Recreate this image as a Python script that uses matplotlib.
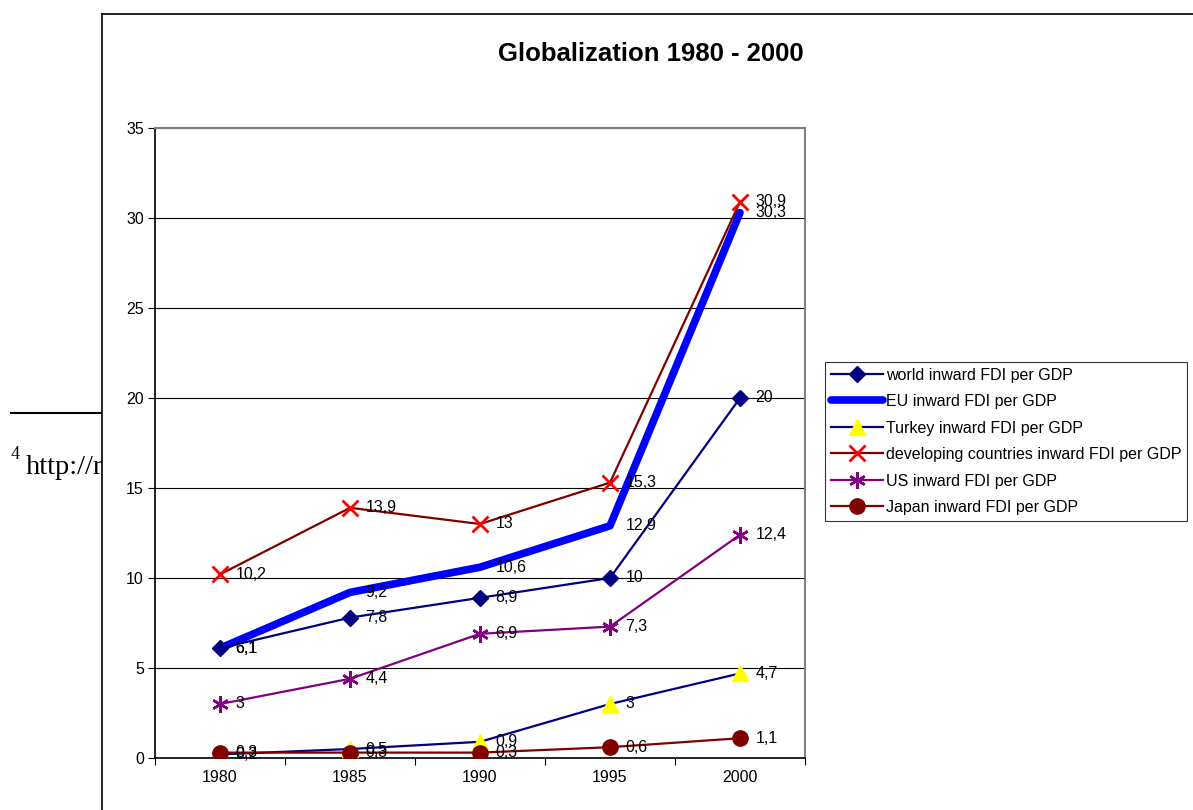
import matplotlib
matplotlib.use('Agg')
import matplotlib.pyplot as plt
from matplotlib.lines import Line2D

plt.rcParams['font.family'] = ['Liberation Sans', 'DejaVu Sans']

years = ['1980', '1985', '1990', '1995', '2000']

world = [6.1, 7.8, 8.9, 10, 20]
eu = [6.1, 9.2, 10.6, 12.9, 30.3]
turkey = [0.2, 0.5, 0.9, 3, 4.7]
developing = [10.2, 13.9, 13, 15.3, 30.9]
us = [3, 4.4, 6.9, 7.3, 12.4]
japan = [0.3, 0.3, 0.3, 0.6, 1.1]

series = [
    ('world inward FDI per GDP', world,
     dict(color='#000080', lw=1.6, marker='D', ms=8, mfc='#000080', mec='#000080', zorder=4)),
    ('EU inward FDI per GDP', eu,
     dict(color='#0000FF', lw=5.5, solid_capstyle='round', zorder=3)),
    ('Turkey inward FDI per GDP', turkey,
     dict(color='#000080', lw=1.6, marker='^', ms=11, mfc='#FFFF00', mec='#FFFF00', zorder=4)),
    ('developing countries inward FDI per GDP', developing,
     dict(color='#800000', lw=1.6, marker='x', ms=11, mew=2, mfc='#FF0000', mec='#FF0000', zorder=4)),
    ('US inward FDI per GDP', us,
     dict(color='#800080', lw=1.6, marker=(6, 2, 0), ms=12, mew=1.8, mfc='#800080', mec='#800080', zorder=4)),
    ('Japan inward FDI per GDP', japan,
     dict(color='#800000', lw=1.6, marker='o', ms=11, mfc='#800000', mec='#800000', zorder=5)),
]

fig = plt.figure(figsize=(11.93, 8.10), dpi=100)

# footnote peeking out from behind the chart
fn = fig.add_axes([0, 0, 102 / 1193, 1])
fn.axis('off')
fn.set_xlim(0, 102)
fn.set_ylim(810, 0)
fn.plot([11, 102], [413, 413], color='black', lw=1.5, clip_on=True)
fn.text(11, 459, '4', family='Liberation Serif', fontsize=13, va='baseline', clip_on=True)
fn.text(26, 474, 'http://reports', family='Liberation Serif', fontsize=20.5,
        va='baseline', clip_on=True)

# chart frame
fig.add_artist(Line2D([102 / 1193, 102 / 1193], [0, 1 - 14 / 810], color='black', lw=1.2,
                      transform=fig.transFigure))
fig.add_artist(Line2D([102 / 1193, 1], [1 - 14 / 810, 1 - 14 / 810], color='black', lw=1.2,
                      transform=fig.transFigure))

ax = fig.add_axes([155 / 1193, 1 - 758 / 810, 650 / 1193, 630 / 810])
x = list(range(len(years)))

for name, vals, style in series:
    ax.plot(x, vals, label=name, **style)
    for xi, v in zip(x, vals):
        ax.annotate(('%g' % v).replace('.', ','), (xi, v), xytext=(11, 0),
                    textcoords='offset points', va='center', ha='left', fontsize=11.5,
                    zorder=6)

ax.set_xlim(-0.5, 4.5)
ax.set_ylim(0, 35)
ax.set_yticks(range(0, 36, 5))
ax.set_xticks([i - 0.5 for i in range(len(years) + 1)])
ax.set_xticklabels([])
ax.set_xticks(x, minor=True)
ax.set_xticklabels(years, minor=True)
ax.tick_params(axis='x', which='minor', length=0, pad=9, labelsize=11.5)
ax.tick_params(axis='x', which='major', length=5, direction='out', color='black')
ax.tick_params(axis='y', length=5, direction='out', labelsize=11.5, pad=3)
ax.yaxis.grid(True, color='black', lw=0.8)
ax.set_axisbelow(True)
ax.spines['top'].set_color('#808080')
ax.spines['right'].set_color('#808080')
ax.spines['top'].set_linewidth(1.5)
ax.spines['right'].set_linewidth(1.5)
ax.spines['left'].set_linewidth(1.2)
ax.spines['bottom'].set_linewidth(1.2)

fig.text(651 / 1193, 1 - 54 / 810, 'Globalization 1980 - 2000', ha='center', va='center',
         fontsize=18.5, fontweight='bold')

leg = fig.legend(loc='upper left', bbox_to_anchor=(825 / 1193, 1 - 362 / 810),
                 fontsize=11.5, frameon=True, fancybox=False, borderpad=0.35,
                 handlelength=3.25, handletextpad=0.2, labelspacing=0.72,
                 borderaxespad=0)
leg.get_frame().set_edgecolor('black')
leg.get_frame().set_linewidth(0.8)

plt.savefig('out.png', dpi=100)
